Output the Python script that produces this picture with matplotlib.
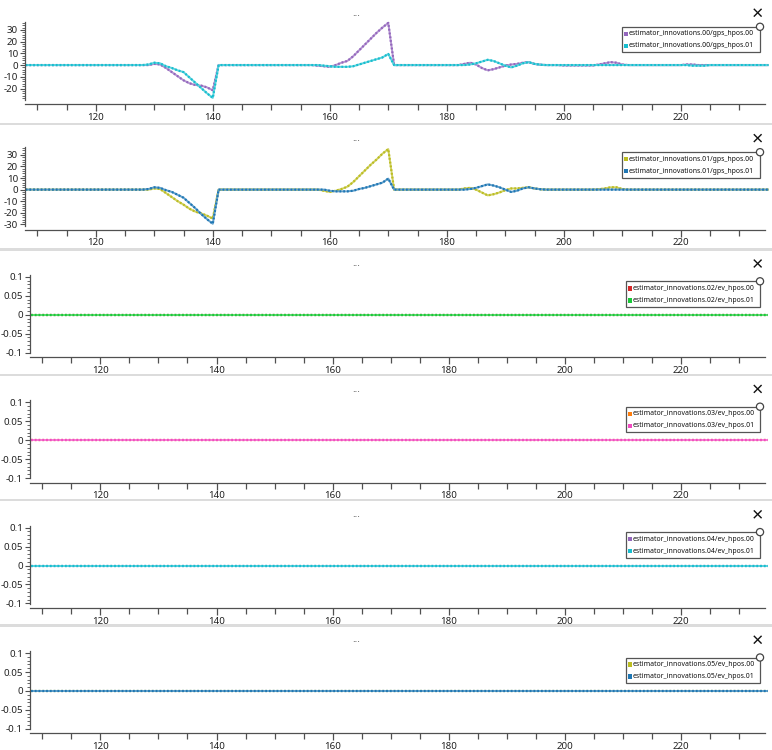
import numpy as np
import matplotlib
matplotlib.use("Agg")
import matplotlib.pyplot as plt
from matplotlib import font_manager
from matplotlib.patches import Rectangle, Circle
from matplotlib.lines import Line2D
from matplotlib.ticker import MultipleLocator, FuncFormatter
from matplotlib.transforms import Affine2D
from matplotlib.colors import to_rgb

plt.rcParams['font.family'] = ['Noto Sans', 'DejaVu Sans']
plt.rcParams['axes.unicode_minus'] = False

# ---------------- data ----------------
time_s = np.arange(108, 236)  # sample times (s)

gps00_hpos00 = ([0.0] * 22
                + [1.0, 0.5, -2.5, -6.0, -9.5, -13.0, -15.5, -17.0, -17.5, -19.0, -21.5]
                + [0.0] * 17
                + [-0.5, -1.0, -1.5, 0.0, 2.0, 3.5, 7.5, 12.5, 17.5, 22.5, 27.5, 32.0, 36.0]
                + [0.0] * 12
                + [1.0, 2.0, 0.5, -2.5, -4.5, -3.5, -2.0, -0.5, 0.5, 1.0, 2.0, 2.5, 1.0, 0.3]
                + [0.0] * 3 + [-0.3] * 6
                + [0.5, 1.5, 2.5, 2.0, 0.5]
                + [0.0] * 10 + [0.5, 0.5] + [0.0] * 13)

gps00_hpos01 = ([0.0] * 21
                + [0.5, 2.0, 1.5, -1.0, -2.5, -4.5, -6.0, -10.5, -15.0, -19.5, -24.0, -28.0]
                + [0.0] * 18
                + [-0.5, -1.0, -1.5, -1.5, -1.5, -1.0, 0.5, 2.0, 3.5, 5.0, 6.5, 9.5]
                + [0.0] * 13
                + [0.5, 1.5, 3.0, 4.5, 3.5, 1.5, -0.5, -2.0, -0.5, 1.5, 2.5, 1.0, 0.3]
                + [0.0] * 24 + [0.0, -0.5, -0.5, -0.5, 0.0] + [0.0] * 10)

gps01_hpos00 = ([0.0] * 22
                + [1.0, 0.5, -3.0, -6.5, -10.0, -13.0, -16.5, -19.0, -20.5, -22.5, -25.0]
                + [0.0] * 18
                + [-1.0, -2.0, -1.0, 0.5, 2.5, 6.5, 11.5, 16.5, 21.5, 26.0, 31.0, 35.0]
                + [0.0] * 12
                + [1.0, 1.5, 0.0, -2.5, -5.0, -4.0, -2.5, -0.5, 1.0, 1.0, 1.5, 2.0, 1.0, 0.3]
                + [0.0] * 9 + [0.3, 1.0, 2.0, 2.0, 0.5] + [0.0] * 25)

gps01_hpos01 = ([0.0] * 21
                + [0.5, 2.0, 1.5, -0.5, -2.0, -4.5, -7.0, -11.5, -16.0, -21.0, -25.5, -29.5]
                + [0.0] * 19
                + [-1.0, -1.5, -1.5, -1.5, -1.0, 0.5, 1.5, 3.0, 4.5, 6.0, 9.5]
                + [0.0] * 13
                + [0.5, 1.5, 3.0, 4.5, 3.5, 2.0, 0.0, -2.0, -1.0, 1.0, 2.0, 1.0, 0.3]
                + [0.0] * 39)

ev02_hpos00 = [0.0] * 128
ev02_hpos01 = [0.0] * 128
ev03_hpos00 = [0.0] * 128
ev03_hpos01 = [0.0] * 128
ev04_hpos00 = [0.0] * 128
ev04_hpos01 = [0.0] * 128
ev05_hpos00 = [0.0] * 128
ev05_hpos01 = [0.0] * 128

series_names = [
    ("estimator_innovations.00/gps_hpos.00", "estimator_innovations.00/gps_hpos.01"),
    ("estimator_innovations.01/gps_hpos.00", "estimator_innovations.01/gps_hpos.01"),
    ("estimator_innovations.02/ev_hpos.00", "estimator_innovations.02/ev_hpos.01"),
    ("estimator_innovations.03/ev_hpos.00", "estimator_innovations.03/ev_hpos.01"),
    ("estimator_innovations.04/ev_hpos.00", "estimator_innovations.04/ev_hpos.01"),
    ("estimator_innovations.05/ev_hpos.00", "estimator_innovations.05/ev_hpos.01"),
]
series_values = [
    (gps00_hpos00, gps00_hpos01),
    (gps01_hpos00, gps01_hpos01),
    (ev02_hpos00, ev02_hpos01),
    (ev03_hpos00, ev03_hpos01),
    (ev04_hpos00, ev04_hpos01),
    (ev05_hpos00, ev05_hpos01),
]
series_colors = [
    ("#9467bd", "#17becf"),
    ("#bcbd22", "#1f77b4"),
    ("#d62728", "#1ac938"),
    ("#ff7f0e", "#f14cc1"),
    ("#9467bd", "#17becf"),
    ("#bcbd22", "#1f77b4"),
]

# narrow font for legend if one is installed
LEG_FAMILY = ['Noto Sans', 'DejaVu Sans']
for cand in ['Liberation Sans Narrow', 'DejaVu Sans Condensed']:
    try:
        font_manager.findfont(font_manager.FontProperties(family=cand),
                              fallback_to_default=False)
        LEG_FAMILY = [cand, 'DejaVu Sans']
        break
    except Exception:
        pass

# ---------------- layout ----------------
W, H = 772, 750
fig = plt.figure(figsize=(W / 100, H / 100), dpi=100)
fig.patch.set_facecolor("white")
px = Affine2D().scale(1 / W, -1 / H).translate(0, 1) + fig.transFigure

STEP = 125.4
XLIM = (107.9, 234.4)
AXC = "#505050"

# (left, plot_top, plot_bottom, ylim, major, minor)
panel_geo = [
    (25, 22, 100, (-29.8, 36.75), 10, 2),
    (25, 147, 225.5, (-31.0, 36.8), 10, 2),
]
for k in range(4):
    o = k * STEP
    panel_geo.append((30, 275 + o, 353 + o, (-0.101, 0.105), 0.05, 0.01))


def fmt(v, pos):
    if abs(v) < 1e-9:
        return "0"
    return ("%.2f" % v).rstrip("0").rstrip(".")


def lighten(c, f):
    r, g, b = to_rgb(c)
    return (r + (1 - r) * f, g + (1 - g) * f, b + (1 - b) * f)


legend_texts = []

for i, (left, top, bottom, ylim, major, minor) in enumerate(panel_geo):
    right = 765
    ax = fig.add_axes([left / W, 1 - bottom / H, (right - left) / W, (bottom - top) / H])
    ax.set_facecolor("none")
    for (vals, col) in zip(series_values[i], series_colors[i]):
        ax.plot(time_s, vals, color=lighten(col, 0.3), lw=1.4, solid_capstyle="butt",
                clip_on=False)
        ax.plot(time_s, vals, color=col, lw=1.6, linestyle=(0, (0.8, 0.9)), clip_on=False)
    ax.set_xlim(*XLIM)
    ax.set_ylim(*ylim)
    for s in ("top", "right"):
        ax.spines[s].set_visible(False)
    ax.spines["bottom"].set_position(("outward", 3))
    for s in ("left", "bottom"):
        ax.spines[s].set_color(AXC)
        ax.spines[s].set_linewidth(0.9)
    ax.xaxis.set_major_locator(MultipleLocator(20))
    ax.xaxis.set_minor_locator(MultipleLocator(5))
    ax.yaxis.set_major_locator(MultipleLocator(major))
    ax.yaxis.set_minor_locator(MultipleLocator(minor))
    ax.yaxis.set_major_formatter(FuncFormatter(fmt))
    ax.tick_params(axis="x", which="major", length=5, width=0.9, color=AXC,
                   labelsize=7, pad=1.2, labelcolor="#222222")
    ax.tick_params(axis="x", which="minor", length=4, width=0.9, color=AXC)
    ax.tick_params(axis="y", which="major", length=3.5, width=0.8, color=AXC,
                   labelsize=7, pad=1.5, labelcolor="#222222")
    ax.tick_params(axis="y", which="minor", length=2, width=0.6, color=AXC)

    base = i * STEP
    # "..." title
    fig.text(356.7, base + 13.0, "...", transform=px, fontsize=7, ha="center",
             va="center", color="#333333")
    # close icon
    cx, cy = 757.7, base + 12.7
    for (a, b) in [((-3.4, -3.4), (3.4, 3.4)), ((-3.4, 3.4), (3.4, -3.4))]:
        fig.add_artist(Line2D([cx + a[0], cx + b[0]], [cy + a[1], cy + b[1]],
                              transform=px, color="#111111", lw=1.0))
    # legend
    ltop = base + (26.8 if i < 2 else 30.5)
    lleft = 622 if i < 2 else 626
    lright = 760
    fig.add_artist(Rectangle((lleft, ltop), lright - lleft, 25.5, transform=px,
                             facecolor="white", edgecolor="#555555", lw=0.9))
    for r, (name, col) in enumerate(zip(series_names[i], series_colors[i])):
        ry = ltop + 7.0 + 12.0 * r
        fig.add_artist(Rectangle((lleft + 2, ry - 2.2), 4.4, 4.4, transform=px,
                                 facecolor=col, edgecolor="none"))
        t = fig.text(lleft + 6.5, ry, name, transform=px, fontsize=6,
                     family=LEG_FAMILY, ha="left", va="center", color="#111111")
        legend_texts.append((t, (lright - 5.5) - (lleft + 6.5)))
    fig.add_artist(Circle((lright, ltop), 3.6, transform=px, facecolor="white",
                          edgecolor="#444444", lw=0.9))

# fit legend text widths to their boxes
for _ in range(3):
    fig.canvas.draw()
    r = fig.canvas.get_renderer()
    for t, target in legend_texts:
        w = t.get_window_extent(renderer=r).width
        if w > 0:
            t.set_fontsize(t.get_fontsize() * target / w)

# separators
for k in range(5):
    y = 122.8 + k * STEP
    fig.add_artist(Rectangle((0, y), W, 2.4, transform=px, facecolor="#dcdcdc",
                             edgecolor="none"))

fig.savefig("out.png", dpi=100)
